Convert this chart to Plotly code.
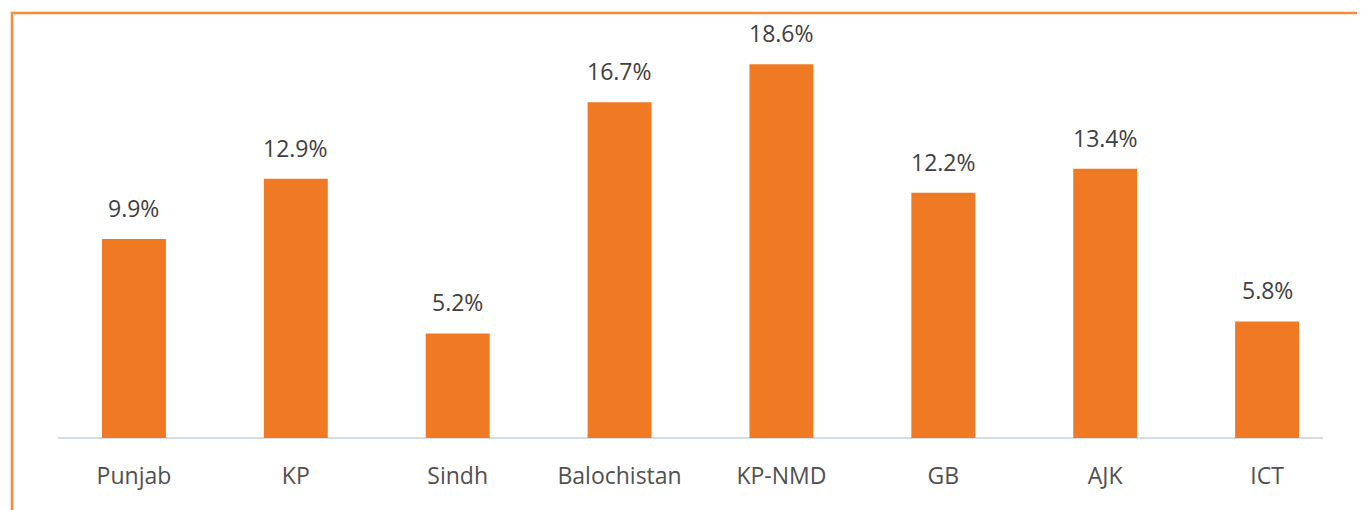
import plotly.graph_objects as go

regions = ["Punjab", "KP", "Sindh", "Balochistan", "KP-NMD", "GB", "AJK", "ICT"]
values = [9.9, 12.9, 5.2, 16.7, 18.6, 12.2, 13.4, 5.8]
labels = ["9.9%", "12.9%", "5.2%", "16.7%", "18.6%", "12.2%", "13.4%", "5.8%"]

W, H = 1365, 510
OFF = 8  # page body margin
ml, mr, mt, mb = 53 - OFF, 25, 36 - OFF, 80

fig = go.Figure()
fig.add_trace(go.Bar(
    x=regions, y=values,
    marker=dict(color="#F07A24", line=dict(width=0)),
    width=0.395,
    hoverinfo="skip",
))

for r, v, t in zip(regions, values, labels):
    fig.add_annotation(x=r, y=v, text=t, showarrow=False, yanchor="bottom",
                       yshift=13, font=dict(family="Open Sans", size=23, color="#404040"))

pw = W - ml - mr
ph = H - mt - mb
fig.add_shape(type="line", xref="paper", yref="paper",
              x0=(58 - 53) / pw, x1=(1323 - 53) / pw, y0=0, y1=0,
              line=dict(color="#D6DCE4", width=2), layer="below")

# orange frame (page coords: left 12, top 13)
fig.add_shape(type="rect", xref="paper", yref="paper",
              x0=(12 - 53) / pw, x1=(1420 - 53) / pw,
              y0=-(mb + 60) / ph, y1=1 + (36 - 13) / ph,
              line=dict(color="#F58A3C", width=2.5), fillcolor="rgba(0,0,0,0)")

fig.update_layout(
    width=W, height=H,
    margin=dict(l=ml, r=mr, t=mt, b=mb),
    paper_bgcolor="white", plot_bgcolor="white",
    showlegend=False,
    bargap=0.6,
    xaxis=dict(showline=False, showgrid=False, zeroline=False,
               ticks="outside", ticklen=17, tickcolor="rgba(0,0,0,0)",
               tickfont=dict(family="Open Sans", size=23, color="#505050")),
    yaxis=dict(range=[0, 20], visible=False),
)

fig.write_html("out.html")
